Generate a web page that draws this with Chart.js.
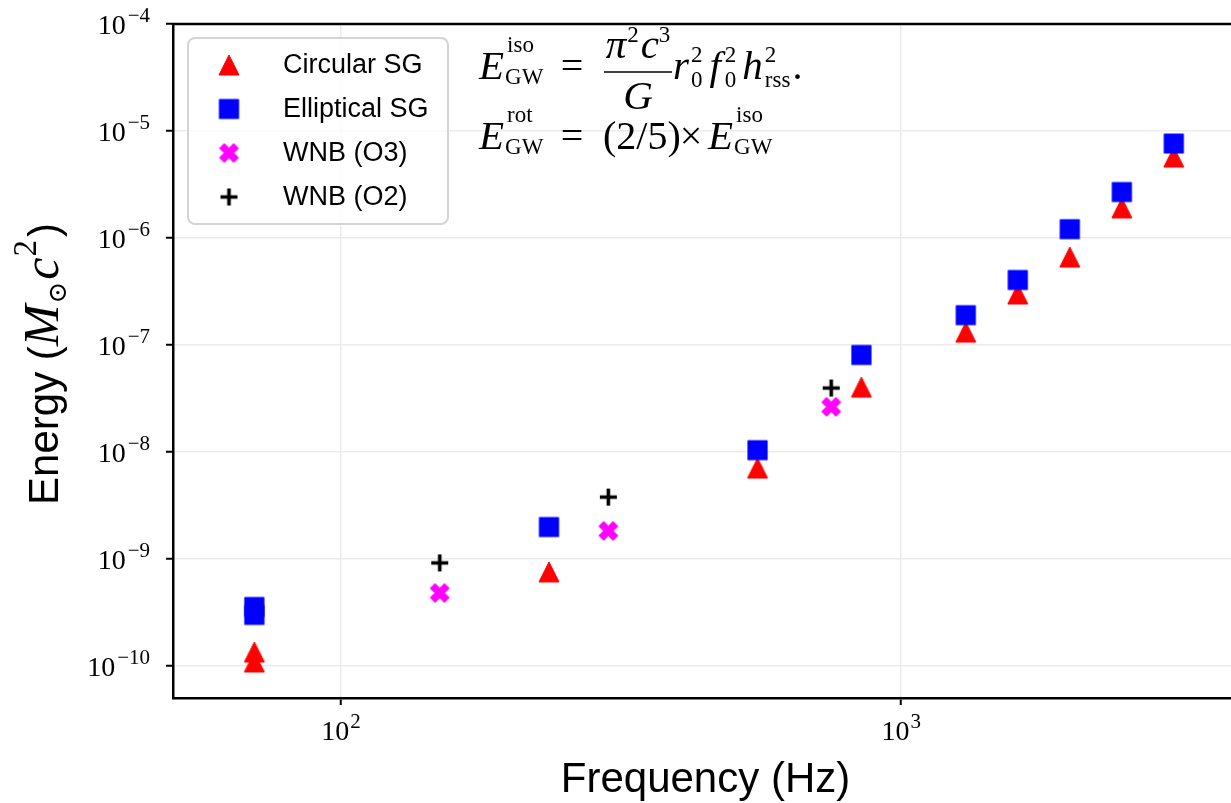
<!DOCTYPE html>
<html><head><meta charset="utf-8">
<script src="https://cdn.jsdelivr.net/npm/chart.js@4.4.1/dist/chart.umd.min.js"></script>
<style>html,body{margin:0;padding:0;background:#fff;overflow:hidden}canvas{display:block}</style>
</head><body>
<canvas id="c" width="1231" height="803"></canvas>
<script>
// ---------------- data ----------------
const sgFreqs = [70, 70, 235, 554, 849, 1304, 1615, 2000, 2477, 3067];
const circularSG = [1.35e-10, 1.09e-10, 7.57e-10, 7.08e-9, 4.04e-8, 1.32e-7, 3.0e-7, 6.64e-7, 1.91e-6, 5.71e-6];
const ellipticalSG = [3.56e-10, 3.0e-10, 1.99e-9, 1.04e-8, 8.07e-8, 1.90e-7, 4.05e-7, 1.21e-6, 2.69e-6, 7.64e-6];
const wnbFreqs = [150, 300, 750];
const wnbO3 = [4.81e-10, 1.83e-9, 2.64e-8];
const wnbO2 = [9.19e-10, 3.79e-9, 3.96e-8];
const seriesLabels = ['Circular SG', 'Elliptical SG', 'WNB (O3)', 'WNB (O2)'];
const xTickValues = [100, 1000];
const xTickExps = ['2', '3'];
const yTickValues = [1e-10, 1e-9, 1e-8, 1e-7, 1e-6, 1e-5, 1e-4];
const yTickExps = ['\u221210', '\u22129', '\u22128', '\u22127', '\u22126', '\u22125', '\u22124'];
const xTitle = 'Frequency (Hz)';

// ---------------- markers ----------------
function makeMarker(kind, color, size) {
  const pad = 3;
  const c = document.createElement('canvas');
  c.width = c.height = size + pad * 2;
  const g = c.getContext('2d');
  const m = c.width / 2, h = size / 2;
  g.fillStyle = color; g.strokeStyle = color;
  g.beginPath();
  if (kind === 'tri') {
    g.moveTo(m, m - h); g.lineTo(m + h, m + h); g.lineTo(m - h, m + h); g.closePath();
    g.fill(); g.lineJoin = 'round'; g.lineWidth = 1; g.stroke();
  } else if (kind === 'sq') {
    g.rect(m - h, m - h, size, size); g.fill(); g.lineJoin = 'round'; g.lineWidth = 1.2; g.stroke();
  } else if (kind === 'x') {
    const pts = [[-1,-2],[0,-1],[1,-2],[2,-1],[1,0],[2,1],[1,2],[0,1],[-1,2],[-2,1],[-1,0],[-2,-1]];
    pts.forEach((p, i) => { const px = m + p[0] * size / 4, py = m + p[1] * size / 4; i ? g.lineTo(px, py) : g.moveTo(px, py); });
    g.closePath(); g.fill(); g.lineJoin = 'round'; g.lineWidth = 1; g.stroke();
  } else if (kind === 'plus') {
    g.lineWidth = 3.6; g.lineCap = 'butt';
    g.moveTo(m - h, m); g.lineTo(m + h, m); g.moveTo(m, m - h); g.lineTo(m, m + h); g.stroke();
  }
  return c;
}
const triMk = makeMarker('tri', '#ff0000', 20);
const sqMk = makeMarker('sq', '#0000ff', 19);
const xMk = makeMarker('x', '#ff00ff', 19);
const plusMk = makeMarker('plus', '#000000', 17);
const markers = [triMk, sqMk, xMk, plusMk];

const SERIF = '"Liberation Serif", "DejaVu Serif", serif';
const SANS = '"Liberation Sans", Arial, sans-serif';

function txt(ctx, s, x, y, font, align) {
  ctx.font = font; ctx.textAlign = align || 'left'; ctx.textBaseline = 'alphabetic';
  ctx.fillText(s, x, y);
  return ctx.measureText(s).width;
}
function w(ctx, s, font) { ctx.font = font; return ctx.measureText(s).width; }

const decor = {
  id: 'decor',
  afterDraw(chart) {
    const ctx = chart.ctx, a = chart.chartArea;
    const xs = chart.scales.x, ys = chart.scales.y;
    ctx.save();
    ctx.fillStyle = '#000';
    // top spine
    ctx.strokeStyle = '#000'; ctx.lineWidth = 2.5;
    ctx.beginPath(); ctx.moveTo(a.left - 1.25, a.top); ctx.lineTo(a.right, a.top); ctx.stroke();

    // y tick labels
    const bf = '28px ' + SERIF, ef = '21px ' + SERIF;
    yTickValues.forEach((v, i) => {
      const py = ys.getPixelForValue(v);
      const we = w(ctx, yTickExps[i], ef), wb = w(ctx, '10', bf);
      const x0 = 151 - we - wb - 3;
      txt(ctx, '10', x0, py + 10, bf);
      txt(ctx, yTickExps[i], x0 + wb + 2, py - 2, ef);
    });
    // x tick labels
    xTickValues.forEach((v, i) => {
      const px = xs.getPixelForValue(v);
      const wb = w(ctx, '10', bf), we = w(ctx, xTickExps[i], ef);
      const x0 = px - (wb + we + 1) / 2;
      txt(ctx, '10', x0, 740, bf);
      txt(ctx, xTickExps[i], x0 + wb + 1, 728, ef);
    });

    // x title
    txt(ctx, xTitle, (a.left + 1238) / 2, 792, '42px ' + SANS, 'center');

    // y title (rotated)
    ctx.save();
    ctx.translate(58, 364);
    ctx.rotate(-Math.PI / 2);
    const parts = [
      ['Energy (', '42px ' + SANS, 0, 0],
      ['M', 'italic 50px ' + SERIF, 0, 1],
      ['\u2299', '26px "DejaVu Serif", serif', 8, 2],
      ['c', 'italic 50px ' + SERIF, 0, 1],
      ['2', '33px ' + SERIF, -22, 3],
      [')', '42px ' + SANS, 0, 0]
    ];
    let tot = 0; parts.forEach(p => tot += w(ctx, p[0], p[1]) + p[3]);
    let cx = -tot / 2;
    parts.forEach(p => { cx += txt(ctx, p[0], cx, p[2], p[1]) + p[3]; });
    ctx.restore();

    // formula
    const F = 'italic 41px ' + SERIF, R = '40px ' + SERIF, S = '23px ' + SERIF;
    // line 1
    let B = 79;
    let ex = 479 + txt(ctx, 'E', 479, B, F) + 3;
    txt(ctx, 'iso', ex, B - 27, S);
    txt(ctx, 'GW', ex - 2, B + 5, S);
    txt(ctx, '=', 572, B, R, 'center');
    // numerator pi^2 c^3
    const numW = w(ctx, '\u03c0', F) + w(ctx, '2', S) + 3 + w(ctx, 'c', F) + w(ctx, '3', S);
    let nx = 638 - numW / 2;
    nx += txt(ctx, '\u03c0', nx, 58, F) + 1;
    nx += txt(ctx, '2', nx, 42, S) + 2;
    nx += txt(ctx, 'c', nx, 58, F);
    txt(ctx, '3', nx, 42, S);
    ctx.lineWidth = 1.6; ctx.beginPath(); ctx.moveTo(604, 72); ctx.lineTo(672, 72); ctx.stroke();
    txt(ctx, 'G', 638, 109, F, 'center');
    let x = 673;
    x += txt(ctx, 'r', x, B, F) + 2;
    txt(ctx, '2', x, B - 17, S); x += txt(ctx, '0', x, B + 8, S) + 7;
    x += txt(ctx, 'f', x, B, F) + 4;
    txt(ctx, '2', x, B - 17, S); x += txt(ctx, '0', x, B + 8, S) + 6;
    x += txt(ctx, 'h', x, B, F) + 2;
    txt(ctx, '2', x, B - 17, S); x += txt(ctx, 'rss', x, B + 8, S) + 2;
    txt(ctx, '.', x, B, R);
    // line 2
    B = 149;
    ex = 479 + txt(ctx, 'E', 479, B, F) + 3;
    txt(ctx, 'rot', ex, B - 27, S);
    txt(ctx, 'GW', ex - 2, B + 5, S);
    txt(ctx, '=', 572, B, R, 'center');
    txt(ctx, '(2/5)', 603, B, R);
    txt(ctx, '\u00d7', 691, B, R, 'center');
    ex = 708 + txt(ctx, 'E', 708, B, F) + 3;
    txt(ctx, 'iso', ex, B - 27, S);
    txt(ctx, 'GW', ex - 2, B + 5, S);

    // legend
    const lx = 188, ly = 38, lw = 260, lh = 186, r = 7;
    ctx.beginPath();
    ctx.moveTo(lx + r, ly); ctx.lineTo(lx + lw - r, ly); ctx.arcTo(lx + lw, ly, lx + lw, ly + r, r);
    ctx.lineTo(lx + lw, ly + lh - r); ctx.arcTo(lx + lw, ly + lh, lx + lw - r, ly + lh, r);
    ctx.lineTo(lx + r, ly + lh); ctx.arcTo(lx, ly + lh, lx, ly + lh - r, r);
    ctx.lineTo(lx, ly + r); ctx.arcTo(lx, ly, lx + r, ly, r); ctx.closePath();
    ctx.fillStyle = 'rgba(255,255,255,0.8)'; ctx.fill();
    ctx.strokeStyle = '#d4d4d4'; ctx.lineWidth = 2; ctx.stroke();
    ctx.fillStyle = '#000';
    const rows = [65, 109, 153, 197];
    seriesLabels.forEach((lab, i) => {
      const mk = markers[i];
      ctx.drawImage(mk, 229 - mk.width / 2, rows[i] - mk.height / 2);
      ctx.font = '27px ' + SANS; ctx.textAlign = 'left'; ctx.textBaseline = 'middle';
      ctx.fillText(lab, 283, rows[i] + 1);
    });
    ctx.restore();
  }
};

const pts = (xs, ys) => xs.map((f, i) => ({ x: f, y: ys[i] }));
const gridOpts = { color: '#ebebeb', lineWidth: 1.5, drawTicks: true, tickLength: 7, tickColor: '#000', tickWidth: 2 };

new Chart(document.getElementById('c').getContext('2d'), {
  type: 'scatter',
  data: {
    datasets: [
      { label: seriesLabels[0], data: pts(sgFreqs, circularSG), pointStyle: triMk, pointRadius: 10, order: 4 },
      { label: seriesLabels[1], data: pts(sgFreqs, ellipticalSG), pointStyle: sqMk, pointRadius: 10, order: 3 },
      { label: seriesLabels[2], data: pts(wnbFreqs, wnbO3), pointStyle: xMk, pointRadius: 10, order: 2 },
      { label: seriesLabels[3], data: pts(wnbFreqs, wnbO2), pointStyle: plusMk, pointRadius: 10, order: 1 }
    ]
  },
  options: {
    responsive: false, animation: false, devicePixelRatio: 1,
    layout: { autoPadding: false, padding: { top: 24, left: 0, right: 0, bottom: 0 } },
    plugins: { legend: { display: false }, tooltip: { enabled: false } },
    scales: {
      x: {
        type: 'logarithmic', min: 50.1, max: 3880,
        afterBuildTicks: s => { s.ticks = xTickValues.map(v => ({ value: v })); },
        afterFit: s => { s.height = 105; },
        ticks: { display: false },
        grid: gridOpts,
        border: { display: true, color: '#000', width: 2.5 }
      },
      y: {
        type: 'logarithmic', min: 5.02e-11, max: 1e-4,
        afterBuildTicks: s => { s.ticks = yTickValues.map(v => ({ value: v })); },
        afterFit: s => { s.width = 173; },
        ticks: { display: false },
        grid: gridOpts,
        border: { display: true, color: '#000', width: 2.5 }
      }
    }
  },
  plugins: [decor]
});
</script>
</body></html>
